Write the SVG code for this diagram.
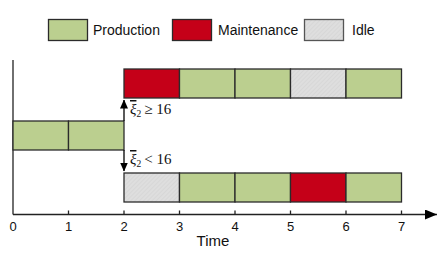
<svg xmlns="http://www.w3.org/2000/svg" width="439" height="263" viewBox="0 0 439 263">
<style>
.box{stroke:#2b2b2b;stroke-width:1.3}
.p{fill:#bbcf8f}
.m{fill:#c50018}
.i{fill:url(#hatch)}
.lbl{font-family:"Liberation Sans",Arial,sans-serif;font-size:14px;fill:#111}
.tick{font-family:"Liberation Sans",Arial,sans-serif;font-size:13px;fill:#111;text-anchor:middle}
.math{font-family:"Liberation Serif","Times New Roman",serif;font-size:15px;fill:#111}
.ax{stroke:#222;stroke-width:1.3;fill:none}
</style>
<defs>
<pattern id="hatch" width="3" height="3" patternUnits="userSpaceOnUse" patternTransform="rotate(45)">
<rect width="3" height="3" fill="#dedede"/>
<line x1="0" y1="0" x2="0" y2="3" stroke="#d0d0d0" stroke-width="1"/>
</pattern>
<marker id="ah" markerWidth="9" markerHeight="8" refX="8.5" refY="4" orient="auto" markerUnits="userSpaceOnUse">
<path d="M0,0 L9,4 L0,8 Z" fill="#000"/>
</marker>
<marker id="axh" markerWidth="13" markerHeight="10" refX="12" refY="5" orient="auto" markerUnits="userSpaceOnUse">
<path d="M0,0 L12,5 L0,10 Z" fill="#000"/>
</marker>
</defs>
<rect width="439" height="263" fill="#fff"/>
<g id="legend">
<rect class="box p" x="48.5" y="19.5" width="39" height="21"/>
<text class="lbl" x="93" y="35">Production</text>
<rect class="box m" x="172.5" y="19.5" width="39" height="21"/>
<text class="lbl" x="218" y="35">Maintenance</text>
<rect class="box i" x="304.5" y="19.5" width="39" height="21" style="stroke:#555"/>
<text class="lbl" x="352" y="35">Idle</text>
</g>
<g id="axes">
<line class="ax" x1="13" y1="60" x2="13" y2="214.5"/>
<line class="ax" x1="13" y1="214.5" x2="437" y2="214.5" marker-end="url(#axh)"/>
<g class="ax">
<line x1="68.5" y1="210.5" x2="68.5" y2="214.5"/>
<line x1="124" y1="210.5" x2="124" y2="214.5"/>
<line x1="179.5" y1="210.5" x2="179.5" y2="214.5"/>
<line x1="235" y1="210.5" x2="235" y2="214.5"/>
<line x1="290.5" y1="210.5" x2="290.5" y2="214.5"/>
<line x1="346" y1="210.5" x2="346" y2="214.5"/>
<line x1="401.5" y1="210.5" x2="401.5" y2="214.5"/>
</g>
<text class="tick" x="13" y="231">0</text>
<text class="tick" x="68.5" y="231">1</text>
<text class="tick" x="124" y="231">2</text>
<text class="tick" x="179.5" y="231">3</text>
<text class="tick" x="235" y="231">4</text>
<text class="tick" x="290.5" y="231">5</text>
<text class="tick" x="346" y="231">6</text>
<text class="tick" x="401.5" y="231">7</text>
<text class="lbl" x="213" y="246" text-anchor="middle" style="font-size:15px">Time</text>
</g>
<g id="bar-top">
<rect class="box m" x="124" y="69" width="55.5" height="29"/>
<rect class="box p" x="179.5" y="69" width="55.5" height="29"/>
<rect class="box p" x="235" y="69" width="55.5" height="29"/>
<rect class="box i" x="290.5" y="69" width="55.5" height="29"/>
<rect class="box p" x="346" y="69" width="55.5" height="29"/>
</g>
<g id="bar-middle">
<rect class="box p" x="13" y="121" width="55.5" height="29"/>
<rect class="box p" x="68.5" y="121" width="55.5" height="29"/>
</g>
<g id="bar-bottom">
<rect class="box i" x="124" y="173" width="55.5" height="29"/>
<rect class="box p" x="179.5" y="173" width="55.5" height="29"/>
<rect class="box p" x="235" y="173" width="55.5" height="29"/>
<rect class="box m" x="290.5" y="173" width="55.5" height="29"/>
<rect class="box p" x="346" y="173" width="55.5" height="29"/>
</g>
<g id="connectors">
<line x1="124" y1="121" x2="124" y2="100" stroke="#000" stroke-width="1.3" marker-end="url(#ah)"/>
<line x1="124" y1="150" x2="124" y2="171" stroke="#000" stroke-width="1.3" marker-end="url(#ah)"/>
</g>
<g id="conditions">
<text class="math" x="130" y="114"><tspan font-style="italic" text-decoration="overline">ξ</tspan><tspan font-size="9.5" dy="3">2</tspan><tspan dy="-3" dx="3">≥ 16</tspan></text>
<text class="math" x="130" y="164"><tspan font-style="italic" text-decoration="overline">ξ</tspan><tspan font-size="9.5" dy="3">2</tspan><tspan dy="-3" dx="3">&lt; 16</tspan></text>
</g>
</svg>
